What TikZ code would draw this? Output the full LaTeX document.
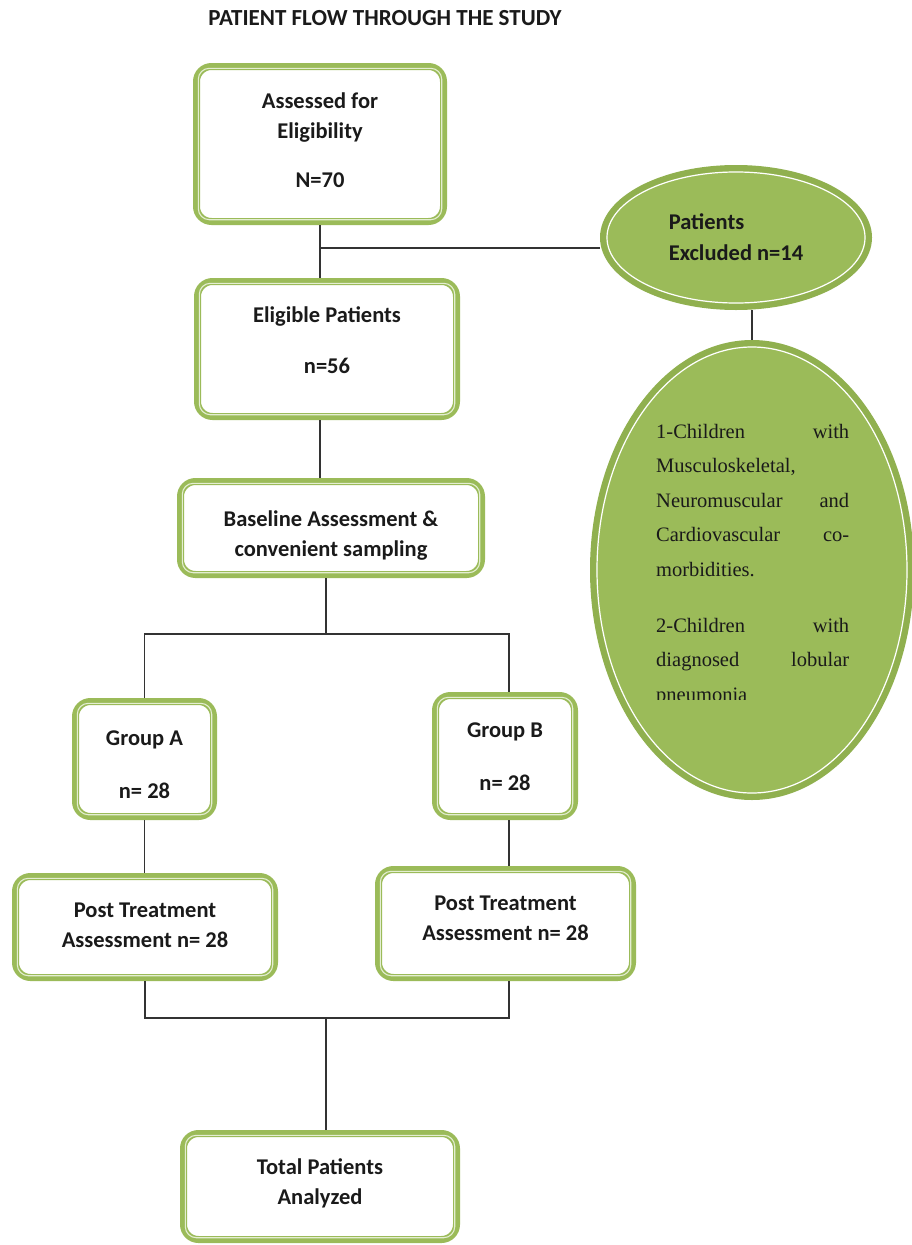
\documentclass[tikz,border=0pt]{standalone}
\usepackage{fontspec}
\usetikzlibrary{shapes.geometric}
\newfontfamily\carlito{Carlito}
\newfontfamily\tnr{Liberation Serif}
\definecolor{boxgreen}{HTML}{9BBB59}
\definecolor{stripecol}{HTML}{E4EED2}
\definecolor{ellfill}{HTML}{9BBB59}
\definecolor{ellband}{HTML}{90B04F}
\definecolor{conncol}{HTML}{333333}
\definecolor{txtcol}{HTML}{1A1A1A}
\newcommand\myTop[1]{\rule{0pt}{#1pt}}
\newcommand\myBot[1]{\rule[-#1pt]{0pt}{#1pt}}
\newcommand\jline[2]{\makebox[193pt][l]{#1\hfill #2}}
\newcommand\boxstripe[1]{\draw[stripecol, line width=1.1pt, rounded corners=11pt] ([shift={(5.3pt,-5.3pt)}]#1.north west) rectangle ([shift={(-5.3pt,5.3pt)}]#1.south east);}
\tikzset{
  gbox/.style={draw=boxgreen, line width=7pt, fill=white, rounded corners=15pt,
    outer sep=3.5pt, inner sep=2pt, align=center, text=txtcol,
    font=\carlito\bfseries\fontsize{22.5}{30}\selectfont},
  gell/.style={ellipse, draw=ellband, line width=6pt, fill=ellfill, outer sep=3pt,
    inner sep=0pt, text=txtcol},
  conn/.style={draw=conncol, line width=1.2pt},
}
\begin{document}
\begin{tikzpicture}[x=1pt,y=-1pt]
\fill[white] (0,0) rectangle (912,1245);
\useasboundingbox (0,0) rectangle (912,1245);

\node[anchor=base, text=txtcol, font=\carlito\bfseries\fontsize{23}{25}\selectfont] (title) at (385,25) {PATIENT FLOW THROUGH THE STUDY};

% boxes
\node[gbox, minimum width=247pt, minimum height=155pt] (assess) at (320,144)
  {\myTop{17}Assessed for\\Eligibility\\[19pt]N=70\myBot{10}};
\node[gbox, minimum width=259pt, minimum height=135pt] (elig) at (327,349)
  {\myTop{17}Eligible Patients\\[21pt]n=56\myBot{20}};
\node[gbox, minimum width=301pt, minimum height=93pt] (base) at (331,528)
  {\myTop{32}Baseline Assessment \&\\convenient sampling\myBot{6}};
\node[gbox, minimum width=138pt, minimum height=115pt] (grpA) at (144.5,759)
  {\myTop{31}Group A\\[23pt]n= 28\myBot{6}};
\node[gbox, minimum width=139pt, minimum height=121pt] (grpB) at (505,756)
  {\myTop{17}Group B\\[23pt]n= 28\myBot{2}};
\node[gbox, minimum width=259pt, minimum height=101pt] (postA) at (145,927)
  {\myTop{17}Post Treatment\\Assessment n= 28\myBot{7}};
\node[gbox, minimum width=254pt, minimum height=108pt] (postB) at (505.5,923.5)
  {\myTop{17}Post Treatment\\Assessment n= 28\myBot{13}};
\node[gbox, minimum width=273pt, minimum height=106pt] (total) at (320,1186.5)
  {\myTop{17}Total Patients\\Analyzed\myBot{12}};
\foreach \b in {assess,elig,base,grpA,grpB,postA,postB,total}{\boxstripe{\b}}

% ellipses
\node[gell, minimum width=266pt, minimum height=139pt, align=left,
  font=\carlito\bfseries\fontsize{22.5}{31}\selectfont] (excl) at (736,237.5)
  {Patients\\Excluded n=14};
\draw[white, line width=1.2pt] (excl.center) ellipse [x radius=129pt, y radius=65.5pt];
\node[gell, minimum width=318pt, minimum height=454pt] (big) at (752,570) {};
\draw[white, line width=1.2pt] (big.center) ellipse [x radius=155pt, y radius=223pt];
\begin{scope}
\clip (600,340) rectangle (912,699);
\node[anchor=north west, inner sep=0pt, align=left, text width=193pt, text=txtcol,
  font=\tnr\fontsize{20.5}{34.5}\selectfont] (exctext) at (656,424)
  {\myTop{14}\jline{1-Children}{with}\\
   Musculoskeletal,\\
   \jline{Neuromuscular}{and}\\
   \jline{Cardiovascular}{co-}\\
   morbidities.\\[21.5pt]
   \jline{2-Children}{with}\\
   \jline{diagnosed}{lobular}\\
   pneumonia};
\end{scope}

% connectors
\coordinate (j1) at (320,248);
\coordinate (j2) at (326,634);
\coordinate (jB) at (509,634);
\coordinate (j3) at (326,1018);
\draw[conn] (assess.south) -- (elig.north -| assess.south);
\draw[conn] (j1) -- (j1 -| excl.west);
\draw[conn] (excl.south -| big.north) -- (big.north);
\draw[conn] (elig.south -| assess.south) -- (base.north -| assess.south);
\draw[conn] (base.south -| j2) -- (j2);
\draw[conn] (grpA.north) -- (grpA.north |- j2) -- (jB) -- (jB |- grpB.north);
\draw[conn] (grpA.south) -- (postA.north -| grpA.south);
\draw[conn] (grpB.south -| jB) -- (postB.north -| jB);
\draw[conn] (postA.south) -- (postA.south |- j3) -- (j3 -| jB) -- (postB.south -| jB);
\draw[conn] (j3) -- (total.north -| j3);
\end{tikzpicture}
\end{document}
